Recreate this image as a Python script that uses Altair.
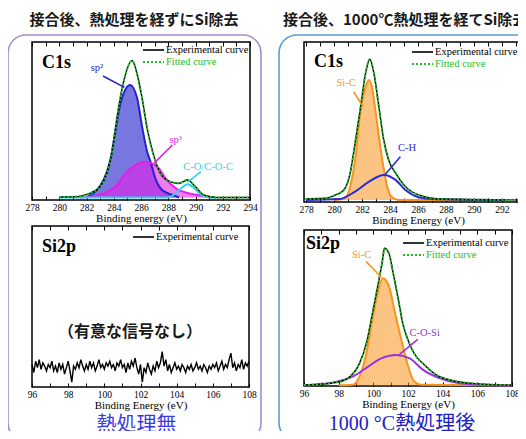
import altair as alt
import numpy as np
import pandas as pd

SERIF = "Liberation Serif"
JP = "Noto Sans CJK JP"
MIX = "'Liberation Serif', 'Noto Sans CJK JP'"

# ---------------- text ----------------
col_titles = ["接合後、熱処理を経ずにSi除去", "接合後、1000℃熱処理を経てSi除去"]
captions = ["熱処理無", "1000 °C熱処理後"]
x_titles = ["Binding energy (eV)", "Binding Energy (eV)", "Binding Energy (eV)", "Binding Energy (eV)"]
y_title = "Intensity (arb. unit)"
panel_labels = ["C1s", "Si2p", "C1s", "Si2p"]
legend_labels = ["Experimental curve", "Fitted curve"]
no_signal = "（有意な信号なし）"

c1s_ticks = [278, 279, 280, 281, 282, 283, 284, 285, 286, 287, 288, 289, 290, 291, 292, 293, 294]
si2p_ticks = [96, 97, 98, 99, 100, 101, 102, 103, 104, 105, 106, 107, 108]

# ---------------- data ----------------
# Top-left: C1s, no heat treatment
a_E = [280.0, 281.0, 282.3, 283.0, 283.5, 283.9, 284.25, 284.7, 285.35, 285.7, 286.1,
       286.45, 286.85, 287.2, 287.7, 288.3, 288.8, 289.4, 290.0, 290.6, 291.5, 294.0]
a_exp = [1.9, 2.0, 4.4, 8.4, 17.1, 31.6, 52.7, 73.9, 88.2, 80.2, 63.3,
         45.4, 30.6, 21.1, 13.7, 11.2, 10.6, 12.7, 8.4, 3.2, 1.6, 1.6]
a_fit = [1.9, 2.0, 4.4, 8.4, 17.1, 31.6, 52.7, 73.9, 88.2, 80.2, 63.3,
         45.4, 30.6, 21.1, 13.7, 11.2, 10.6, 12.7, 8.4, 3.2, 1.6, 1.6]
a_base = 1.6
sp2_E = [282.0, 282.65, 283.25, 283.75, 284.1, 284.5, 285.2, 285.7, 286.1, 286.45, 286.7, 287.05, 287.55, 288.3, 288.8]
sp2_I = [1.8, 5.3, 12.7, 25.3, 42.4, 61.2, 72.8, 65.0, 45.4, 30.6, 24.2, 13.7, 6.3, 3.2, 1.6]
sp3_E = [281.5, 282.3, 283.25, 284.25, 284.85, 285.4, 286.3, 287.3, 287.8, 288.55, 289.55, 290.5, 291.2]
sp3_I = [1.6, 2.1, 4.2, 9.5, 16.9, 21.0, 24.2, 20.1, 13.7, 7.4, 4.2, 2.7, 1.6]
co_E = [280.0, 287.9, 288.5, 289.0, 289.4, 289.8, 290.3, 290.9, 291.5]
co_I = [1.6, 1.6, 3.8, 7.8, 9.9, 8.2, 4.2, 1.8, 1.6]

# Bottom-left: Si2p, no heat treatment (noise only)
b_E = np.round(np.linspace(96.0, 108.0, 121), 2).tolist()
b_exp = [14, 9, 16, 12, 17, 11, 15, 13, 10, 14,
         12, 16, 10, 13, 9, 15, 11, 14, 8, 12,
         16, 10, 3, 13, 11, 15, 12, 17, 13, 10,
         14, 11, 16, 12, 15, 10, 13, 17, 12, 14,
         11, 15, 13, 16, 12, 14, 10, 15, 13, 17,
         12, 14, 9, 15, 11, 16, 13, 18, 12, 8,
         14, 3, 12, 9, 15, 11, 8, 13, 10, 16,
         12, 15, 22, 13, 17, 10, 14, 9, 12, 15,
         11, 13, 10, 14, 12, 9, 13, 11, 14, 10,
         12, 15, 11, 13, 10, 14, 12, 9, 13, 11,
         14, 12, 15, 10, 13, 16, 11, 14, 12, 17,
         21, 12, 15, 10, 14, 12, 17, 11, 15, 13, 16]

# Top-right: C1s after 1000 C
c_E = [277.95, 279.4, 280.1, 280.7, 281.15, 281.5, 281.9, 282.25, 282.55, 282.85,
       283.2, 283.55, 283.9, 284.4, 285.1, 286.05, 287.5, 292.2, 294.0]
c_exp = [1.9, 2.3, 4.4, 7.5, 18.0, 36.7, 59.6, 80.4, 89.2, 80.4,
         59.6, 38.8, 26.3, 18.0, 9.6, 4.4, 1.9, 1.3, 1.3]
c_fit = [1.9, 2.3, 4.4, 7.5, 18.0, 36.7, 59.6, 80.4, 89.2, 80.4,
         59.6, 38.8, 26.3, 18.0, 9.6, 4.4, 1.9, 1.3, 1.3]
c_base = 1.3
sic1_E = [280.0, 280.7, 281.15, 281.5, 281.9, 282.25, 282.5, 282.7, 283.05, 283.45, 283.8, 284.15, 284.6, 290.0]
sic1_I = [1.3, 1.8, 9.6, 26.0, 57.5, 72.0, 76.3, 72.0, 51.0, 26.0, 9.6, 3.0, 1.3, 1.3]
ch_E = [278.0, 280.4, 281.5, 282.5, 283.55, 284.4, 285.1, 286.05, 287.0, 292.2]
ch_I = [1.3, 1.9, 6.5, 12.7, 16.9, 13.8, 7.5, 3.0, 1.9, 1.3]

# Bottom-right: Si2p after 1000 C
d_E = [96.0, 97.9, 98.65, 99.2, 99.6, 99.95, 100.25, 100.5, 100.65, 100.9,
       101.15, 101.45, 101.7, 102.0, 102.35, 102.95, 103.65, 104.6, 105.7, 108.0]
d_exp = [0.6, 2.4, 6.0, 14.5, 27.4, 46.6, 63.7, 78.6, 88.3, 85.0,
         72.0, 55.0, 40.0, 29.5, 21.0, 13.5, 7.0, 3.4, 1.7, 0.5]
d_fit = [0.6, 2.4, 6.0, 14.5, 27.4, 46.6, 63.7, 78.6, 88.3, 85.0,
         72.0, 55.0, 40.0, 29.5, 21.0, 13.5, 7.0, 3.4, 1.7, 0.5]
d_base = 0.5
sic2_E = [98.0, 98.8, 99.2, 99.6, 99.95, 100.25, 100.55, 100.9, 101.25, 101.65, 102.0, 102.35, 102.75, 108.0]
sic2_I = [0.5, 0.8, 6.0, 21.0, 43.0, 60.0, 69.0, 64.0, 47.0, 28.0, 13.0, 3.0, 0.8, 0.5]
cos_E = [96.0, 97.9, 98.8, 99.7, 100.45, 101.3, 102.1, 102.85, 103.8, 104.9, 106.2, 108.0]
cos_I = [0.3, 2.8, 6.0, 12.4, 17.7, 19.9, 17.7, 10.5, 5.1, 1.9, 0.8, 0.3]

# annotation labels: (text, E, I, leader E1, I1, leader E2, I2)
a_notes = [("sp²", 282.77, 83.4, 283.21, 78.5, 284.78, 71.3),
           ("sp³", 288.55, 38.0, 288.3, 34.8, 286.95, 23.2),
           ("C-O/C-O-C", 290.93, 21.1, 290.39, 17.9, 289.41, 11.2)]
c_notes = [("Si-C", 280.86, 74.2, 281.4, 68.9, 282.05, 60.0),
           ("C-H", 285.21, 33.6, 284.74, 28.3, 283.62, 16.9)]
d_notes = [("Si-C", 99.32, 84.0, 99.59, 79.7, 100.46, 69.7),
           ("C-O-Si", 102.96, 33.8, 102.56, 29.9, 101.48, 19.9)]
b_note = (no_signal, 101.42, 34.2)

# ---------------- styles ----------------
GREEN = "#22c022"
PURPLE_BOX = "#a58ccb"
BLUE_BOX = "#5b9bd5"
SP2 = "#2424cc"
SP3 = "#e81ce8"
CYAN = "#2ad4ee"
ORANGE = "#f7941d"
CH = "#2a2ad6"
COSI = "#9a30e0"
FILL_OPACITY = {SP2: 0.62, SP3: 0.58, ORANGE: 0.55}


def scales(domain):
    return (alt.Scale(domain=domain, nice=False, zero=False),
            alt.Scale(domain=[0, 100], nice=False, zero=False))


def enc(domain, xaxis=None, yaxis=None, xf="E", yf="I"):
    xs, ys = scales(domain)
    return dict(x=alt.X(f"{xf}:Q", scale=xs, axis=xaxis),
                y=alt.Y(f"{yf}:Q", scale=ys, axis=yaxis))


def bottom_axis(ticks, title):
    return alt.Axis(values=ticks, labelExpr="datum.value % 2 === 0 ? datum.label : ''",
                    labelFlush=False, labelOverlap=False,
                    tickSize=4, offset=-4, title=title, labelPadding=2, titlePadding=1)


def top_axis(ticks):
    return alt.Axis(orient="top", values=ticks, labels=False, tickSize=4, offset=-4, title=None)


Y_AXIS = alt.Axis(title=y_title, labels=False, ticks=False)


def one(t):
    return pd.DataFrame({"t": [t]})


def panel(domain, ticks, xtitle, label, label_xy, curves, comps, notes, legend, box=None):
    layers = []
    if box is not None:
        color, x1, x2, y1, y2 = box
        layers.append(alt.Chart(one("")).mark_rect(fill="white", fillOpacity=0, stroke=color,
                                                  strokeWidth=1.6, cornerRadius=18)
                      .encode(x=alt.value(x1), x2=alt.value(x2), y=alt.value(y1), y2=alt.value(y2)))
    for E, I, base, color, fill in comps:
        df = pd.DataFrame({"E": E, "I": I, "B": [base] * len(E)})
        if fill:
            layers.append(alt.Chart(df).mark_area(interpolate="monotone", color=color,
                                                  opacity=FILL_OPACITY.get(color, 0.5))
                          .encode(**enc(domain), y2="B:Q"))
    for E, I, base, color, fill in comps:
        df = pd.DataFrame({"E": E, "I": I})
        layers.append(alt.Chart(df).mark_line(interpolate="monotone", color=color, strokeWidth=2)
                      .encode(**enc(domain)))
    first = True
    for E, I, kind in curves:
        df = pd.DataFrame({"E": E, "I": I})
        if kind == "exp":
            m = alt.Chart(df).mark_line(color="black", strokeWidth=1.4,
                                        interpolate="linear" if len(E) > 60 else "monotone")
        else:
            m = alt.Chart(df).mark_line(color=GREEN, strokeWidth=2, strokeDash=[2, 2], interpolate="monotone")
        if first:
            layers.append(m.encode(**enc(domain, bottom_axis(ticks, xtitle), Y_AXIS)))
            first = False
        else:
            layers.append(m.encode(**enc(domain)))
    first_note = True
    for note in notes:
        if len(note) == 4:
            text, E, I, style = note
            df = pd.DataFrame({"E": [E], "I": [I], "t": [text]})
            t = alt.Chart(df).mark_text(**style)
        else:
            text, E, I, E1, I1, E2, I2, color = note
            df = pd.DataFrame({"E": [E1], "I": [I1], "E2": [E2], "I2": [I2]})
            layers.append(alt.Chart(df).mark_rule(color=color, strokeWidth=1.6)
                          .encode(**enc(domain), x2="E2:Q", y2="I2:Q"))
            df = pd.DataFrame({"E": [E], "I": [I], "t": [text]})
            t = alt.Chart(df).mark_text(font=SERIF, fontSize=10.5, color=color)
        if first_note:
            layers.append(t.encode(**enc(domain, top_axis(ticks)), text="t:N"))
            first_note = False
        else:
            layers.append(t.encode(**enc(domain), text="t:N"))
    layers.append(alt.Chart(one(label)).mark_text(align="left", baseline="alphabetic", font=SERIF,
                                                  fontSize=18, fontWeight="bold", color="black")
                  .encode(x=alt.value(label_xy[0]), y=alt.value(label_xy[1]), text="t:N"))
    lx, ly, rows = legend
    for i, (lab, color, dash) in enumerate(rows):
        y = ly + 12 * i
        kw = dict(color=color, strokeWidth=1.6 if dash is None else 2)
        if dash is not None:
            kw["strokeDash"] = dash
        layers.append(alt.Chart(one(lab)).mark_rule(**kw)
                      .encode(x=alt.value(lx), x2=alt.value(lx + 21), y=alt.value(y)))
        layers.append(alt.Chart(one(lab)).mark_text(align="left", baseline="middle", font=SERIF,
                                                    fontSize=10.5, color=color)
                      .encode(x=alt.value(lx + 23), y=alt.value(y), text="t:N"))
    return alt.layer(*layers).resolve_axis(x="independent")


EXP_ROW = (legend_labels[0], "black", None)
FIT_ROW = (legend_labels[1], GREEN, [2, 2])

tl = panel([278, 294], c1s_ticks, x_titles[0], panel_labels[0], (10, 26),
           [(a_E, a_exp, "exp"), (a_E, a_fit, "fit")],
           [(sp2_E, sp2_I, a_base, SP2, True), (sp3_E, sp3_I, a_base, SP3, True),
            (co_E, co_I, a_base, CYAN, False)],
           [a_notes[0] + (SP2,), a_notes[1] + (SP3,), a_notes[2] + (CYAN,)],
           (111, 8, [EXP_ROW, FIT_ROW]),
           box=(PURPLE_BOX, -24, 229, -7, 399)).properties(
    width=218, height=158,
    title=alt.TitleParams(col_titles[0], anchor="middle", frame="group", dx=-7, offset=6,
                          font=JP, fontSize=15, fontWeight="bold", color="#1a1a1a"))

bl = panel([96, 108], si2p_ticks, x_titles[1], panel_labels[1], (10, 26),
           [(b_E, b_exp, "exp")],
           [],
           [(b_note[0], b_note[1], b_note[2],
             dict(font=JP, fontSize=16, fontWeight="bold", color="#1a1a1a"))],
           (101, 11, [EXP_ROW])).properties(
    width=217, height=161,
    title=alt.TitleParams(captions[0], orient="bottom", anchor="middle", frame="group", dx=-4, offset=4,
                          font=JP, fontSize=20, fontWeight="normal", color="#3b3bdc"))

tr = panel([277.85, 294.15], c1s_ticks, x_titles[2], panel_labels[2], (10, 25),
           [(c_E, c_exp, "exp"), (c_E, c_fit, "fit")],
           [(sic1_E, sic1_I, c_base, ORANGE, True), (ch_E, ch_I, c_base, CH, False)],
           [c_notes[0] + (ORANGE,), c_notes[1] + (CH,)],
           (108, 10, [EXP_ROW, FIT_ROW]),
           box=(BLUE_BOX, -25, 258, -7, 399)).properties(
    width=228, height=160,
    title=alt.TitleParams(col_titles[1], anchor="start", frame="group", dx=-21, offset=6,
                          font=JP, fontSize=15, fontWeight="bold", color="#1a1a1a"))

br = panel([96, 108], si2p_ticks, x_titles[3], panel_labels[3], (2, 19),
           [(d_E, d_exp, "exp"), (d_E, d_fit, "fit")],
           [(sic2_E, sic2_I, d_base, ORANGE, True), (cos_E, cos_I, d_base, COSI, False)],
           [d_notes[0] + (ORANGE,), d_notes[1] + (COSI,)],
           (99, 13, [EXP_ROW, FIT_ROW])).properties(
    width=208, height=156,
    title=alt.TitleParams(captions[1], orient="bottom", anchor="middle", frame="group", dx=-6, offset=4,
                          font=MIX, fontSize=20, fontWeight="normal", color="#2020c4"))

left = alt.vconcat(tl, bl, spacing=26, bounds="flush")
right = alt.vconcat(tr, br, spacing=28, bounds="flush")

chart = (alt.hconcat(left, right, spacing=14)
         .properties(autosize=alt.AutoSizeParams(type="none"),
                     padding={"left": 24, "top": 34, "right": 486, "bottom": 389})
         .configure(background="white")
         .configure_view(stroke="black", strokeWidth=1.5)
         .configure_axis(labelFont=SERIF, labelFontSize=9.5, labelColor="black", tickColor="black",
                         tickWidth=1, titleFont=SERIF, titleFontWeight="normal", titleColor="black",
                         grid=False, domain=False)
         .configure_axisX(titleFontSize=11)
         .configure_axisY(titleFontSize=9.5, titlePadding=3))

chart.save("out.html", embed_options={"renderer": "svg", "actions": False})
